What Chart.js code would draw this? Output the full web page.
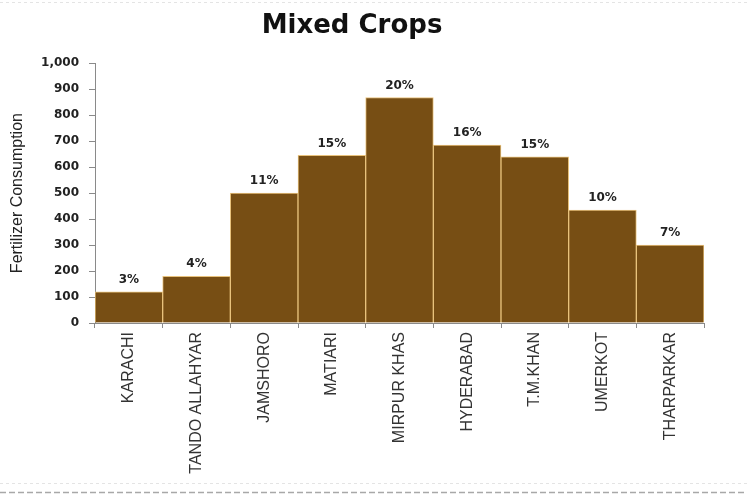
<!DOCTYPE html>
<html>
<head>
<meta charset="utf-8">
<script src="https://cdn.jsdelivr.net/npm/chart.js@4.4.0/dist/chart.umd.min.js"></script>
<style>
  html, body { margin: 0; padding: 0; background: #ffffff; }
  #wrap { width: 747px; height: 495px; position: relative; }
</style>
</head>
<body>
<div id="wrap"><canvas id="c" width="747" height="495"></canvas></div>
<script>
// Fertilizer consumption by district, mixed crops
const districts = ['KARACHI', 'TANDO ALLAHYAR', 'JAMSHORO', 'MATIARI', 'MIRPUR KHAS',
                   'HYDERABAD', 'T.M.KHAN', 'UMERKOT', 'THARPARKAR'];
const consumption = [120, 180, 500, 645, 868, 685, 640, 435, 300];
const yTicks = [0, 100, 200, 300, 400, 500, 600, 700, 800, 900, 1000];

const total = consumption.reduce((a, b) => a + b, 0);
const shares = consumption.map(v => Math.round(v / total * 100) + '%');

// Percentage share written above each bar
const shareLabels = {
  id: 'shareLabels',
  afterDatasetsDraw(chart) {
    const ctx = chart.ctx;
    const meta = chart.getDatasetMeta(0);
    ctx.save();
    ctx.font = 'bold 12px "DejaVu Sans", sans-serif';
    ctx.fillStyle = '#222';
    ctx.textAlign = 'center';
    ctx.textBaseline = 'bottom';
    meta.data.forEach((bar, i) => {
      ctx.fillText(shares[i], bar.x, bar.y - 6);
    });
    ctx.restore();
  }
};

// Dashed frame lines at top and bottom of the figure
const frameLines = {
  id: 'frameLines',
  afterDraw(chart) {
    const ctx = chart.ctx;
    ctx.save();
    ctx.strokeStyle = '#a8a8a8';
    ctx.lineWidth = 1.5;
    ctx.setLineDash([6, 3]);
    ctx.beginPath();
    ctx.moveTo(0, 492.5);
    ctx.lineTo(747, 492.5);
    ctx.stroke();
    ctx.strokeStyle = '#e4e4e4';
    ctx.lineWidth = 1;
    ctx.setLineDash([3, 3]);
    ctx.beginPath();
    ctx.moveTo(0, 2.5);
    ctx.lineTo(747, 2.5);
    ctx.moveTo(0, 483.5);
    ctx.lineTo(747, 483.5);
    ctx.stroke();
    ctx.restore();
  }
};

new Chart(document.getElementById('c'), {
  type: 'bar',
  data: {
    labels: districts,
    datasets: [{
      data: consumption,
      backgroundColor: '#774e14',
      borderColor: '#e8c27c',
      borderWidth: { left: 1, right: 1, top: 1, bottom: 0 },
      borderSkipped: 'bottom',
      categoryPercentage: 1.0,
      barPercentage: 1.0
    }]
  },
  options: {
    responsive: false,
    animation: false,
    layout: { padding: { left: 0, right: 43, top: 0, bottom: 0 } },
    plugins: {
      legend: { display: false },
      tooltip: { enabled: false },
      title: {
        display: true,
        text: 'Mixed Crops',
        color: '#111',
        font: { family: '"DejaVu Sans", sans-serif', size: 26, weight: 'bold', lineHeight: 1.2 },
        padding: { top: 11, bottom: 21 }
      }
    },
    scales: {
      x: {
        afterFit: s => { s.height = 172; },
        grid: {
          display: true,
          drawOnChartArea: false,
          drawTicks: true,
          tickLength: 5,
          color: '#8a8a8a',
          offset: true
        },
        border: { display: true, color: '#8a8a8a', width: 1 },
        ticks: {
          autoSkip: false,
          minRotation: 90,
          maxRotation: 90,
          padding: 4,
          color: '#333',
          font: { family: '"Liberation Sans", Arial, sans-serif', size: 16 }
        }
      },
      y: {
        min: 0,
        max: 1000,
        afterFit: s => { s.width = 95; },
        afterBuildTicks: s => { s.ticks = yTicks.map(v => ({ value: v })); },
        grid: {
          display: true,
          drawOnChartArea: false,
          drawTicks: true,
          tickLength: 6,
          color: '#8a8a8a'
        },
        border: { display: true, color: '#8a8a8a', width: 1 },
        ticks: {
          padding: 10,
          color: '#222',
          font: { family: '"DejaVu Sans", sans-serif', size: 12, weight: 'bold' },
          callback: v => Number(v).toLocaleString('en-US')
        },
        title: {
          display: true,
          text: 'Fertilizer Consumption',
          color: '#222',
          padding: { top: 8, bottom: 0 },
          font: { family: '"Liberation Sans", Arial, sans-serif', size: 16 }
        }
      }
    }
  },
  plugins: [shareLabels, frameLines]
});
</script>
</body>
</html>
